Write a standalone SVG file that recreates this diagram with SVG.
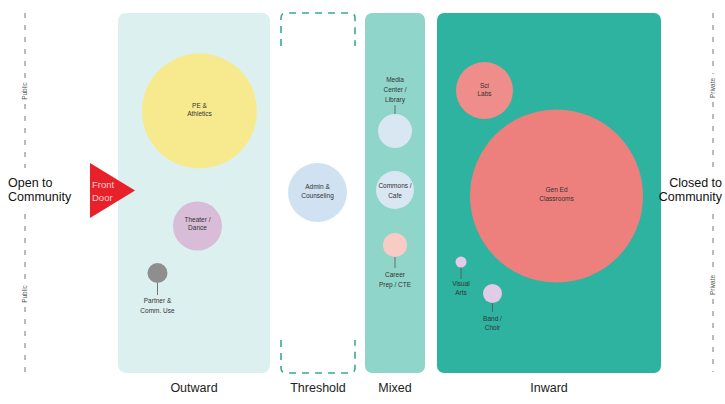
<svg xmlns="http://www.w3.org/2000/svg" width="725" height="404" viewBox="0 0 725 404">
<style>
.lbl{font-family:"Liberation Sans",Arial,sans-serif;font-size:6.5px;fill:#333;text-anchor:middle}
.side{font-family:"Liberation Sans",Arial,sans-serif;font-size:12.5px;fill:#111}
.cat{font-family:"Liberation Sans",Arial,sans-serif;font-size:12.5px;fill:#222;text-anchor:middle}
.rot{font-family:"Liberation Sans",Arial,sans-serif;font-size:6.5px;fill:#555;text-anchor:middle}
.dash{stroke:#777;stroke-width:1;stroke-dasharray:5,7;fill:none}
.stem{stroke:#555;stroke-width:0.8}
.thr{stroke:#3aa897;stroke-width:1.6;stroke-dasharray:7,6;fill:none}
</style>
<rect width="725" height="404" fill="#ffffff"/>
<g id="panels">
<rect id="outward" x="118" y="13" width="152" height="360" rx="8" fill="#dcf0ef"/>
<path id="threshold" class="thr" d="M281,46 V18 Q281,13 286,13 H350 Q355,13 355,18 V46 M281,340 V368 Q281,373 286,373 H350 Q355,373 355,368 V340"/>
<rect id="mixed" x="365" y="13" width="60" height="360" rx="7" fill="#8fd5c9"/>
<rect id="inward" x="437" y="13" width="224" height="360" rx="7" fill="#2db3a0"/>
</g>
<g id="connectors">
<line class="stem" x1="157.5" y1="283" x2="157.5" y2="295"/>
<line class="stem" x1="395" y1="105" x2="395" y2="114"/>
<line class="stem" x1="395" y1="257" x2="395" y2="268"/>
<line class="stem" x1="461" y1="267" x2="461" y2="279"/>
<line class="stem" x1="492.5" y1="303" x2="492.5" y2="312"/>
</g>
<g id="axes">
<line class="dash" x1="25" y1="13" x2="25" y2="78"/>
<line class="dash" x1="25" y1="104" x2="25" y2="168"/>
<text class="rot" transform="translate(27.3,91) rotate(-90)">Public</text>
<line class="dash" x1="25" y1="214" x2="25" y2="281"/>
<line class="dash" x1="25" y1="307" x2="25" y2="372"/>
<text class="rot" transform="translate(27.3,294) rotate(-90)">Public</text>
<text class="side" x="8" y="187">Open to</text>
<text class="side" x="8" y="201">Community</text>
<line class="dash" x1="713" y1="13" x2="713" y2="74"/>
<line class="dash" x1="713" y1="102" x2="713" y2="168"/>
<text class="rot" transform="translate(715.3,88) rotate(-90)">Private</text>
<line class="dash" x1="713" y1="214" x2="713" y2="271"/>
<line class="dash" x1="713" y1="299" x2="713" y2="372"/>
<text class="rot" transform="translate(715.3,285) rotate(-90)">Private</text>
<text class="side" x="722" y="187" text-anchor="end">Closed to</text>
<text class="side" x="722" y="201" text-anchor="end">Community</text>
</g>
<g id="front-door">
<polygon points="90,163 135,190.5 90,218" fill="#e8202a"/>
<text x="92" y="188" font-family="Liberation Sans,Arial,sans-serif" font-size="9.5" fill="#fbd0d0">Front</text>
<text x="92" y="201" font-family="Liberation Sans,Arial,sans-serif" font-size="9.5" fill="#fbd0d0">Door</text>
</g>
<g id="pe-athletics"><circle cx="199.5" cy="111" r="57.5" fill="#f7ea8e"/><text class="lbl" x="199.5" y="108">PE &amp;</text><text class="lbl" x="199.5" y="116">Athletics</text></g>
<g id="theater-dance"><circle cx="197.5" cy="226" r="24.5" fill="#d9bcd8"/><text class="lbl" x="197.5" y="222">Theater /</text><text class="lbl" x="197.5" y="230">Dance</text></g>
<g id="partner"><circle cx="157.5" cy="273" r="10" fill="#8e8e8e"/><text class="lbl" x="157.5" y="303">Partner &amp;</text><text class="lbl" x="157.5" y="313">Comm. Use</text></g>
<g id="admin"><circle cx="317.5" cy="192.5" r="29.5" fill="#d0e2f1"/><text class="lbl" x="317.5" y="189">Admin &amp;</text><text class="lbl" x="317.5" y="198">Counseling</text></g>
<g id="media"><circle cx="395" cy="131" r="17" fill="#d9e7f2"/><text class="lbl" x="395" y="82">Media</text><text class="lbl" x="395" y="92">Center /</text><text class="lbl" x="395" y="102">Library</text></g>
<g id="commons"><circle cx="395" cy="190" r="19" fill="#d9e7f2"/><text class="lbl" x="395" y="188">Commons /</text><text class="lbl" x="395" y="198">Cafe</text></g>
<g id="career"><circle cx="395" cy="245" r="12" fill="#f8cbc4"/><text class="lbl" x="395" y="277">Career</text><text class="lbl" x="395" y="287">Prep / CTE</text></g>
<g id="sci-labs"><circle cx="484.5" cy="90.5" r="28.5" fill="#ee8d8a"/><text class="lbl" x="484.5" y="88">Sci</text><text class="lbl" x="484.5" y="96">Labs</text></g>
<g id="gen-ed"><circle cx="556.5" cy="196" r="86.5" fill="#ed807c"/><text class="lbl" x="556.5" y="192">Gen Ed</text><text class="lbl" x="556.5" y="201">Classrooms</text></g>
<g id="visual-arts"><circle cx="461" cy="262" r="5.5" fill="#e2cbe6"/><text class="lbl" x="461" y="286">Visual</text><text class="lbl" x="461" y="295">Arts</text></g>
<g id="band-choir"><circle cx="492.5" cy="293.5" r="9.5" fill="#e2cbe6"/><text class="lbl" x="492.5" y="321">Band /</text><text class="lbl" x="492.5" y="330">Choir</text></g>
<g id="categories">
<text class="cat" x="194" y="392">Outward</text>
<text class="cat" x="318" y="392">Threshold</text>
<text class="cat" x="395" y="392">Mixed</text>
<text class="cat" x="549" y="392">Inward</text>
</g>
</svg>
